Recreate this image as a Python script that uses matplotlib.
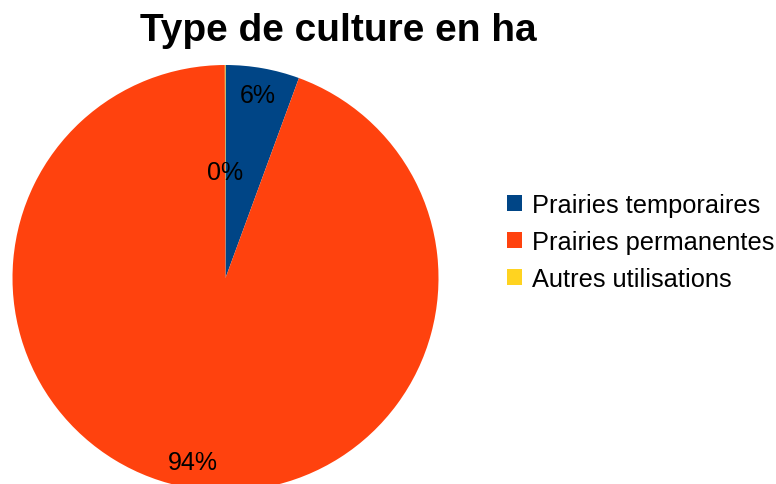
import numpy as np
import matplotlib
matplotlib.use("Agg")
import matplotlib.pyplot as plt
from matplotlib.patches import Patch

# Surface par type de culture (ha, en parts)
categories = ["Prairies temporaires", "Prairies permanentes", "Autres utilisations"]
values = [5.6, 94.35, 0.05]
colors = ["#004586", "#ff420e", "#ffd320"]
title = "Type de culture en ha"

plt.rcParams["font.family"] = ["Liberation Sans", "DejaVu Sans"]

W, H = 776, 485
fig = plt.figure(figsize=(W / 100, H / 100), dpi=100)

cx, cy, r = 225.5, 279.0, 213.0
ax = fig.add_axes([(cx - r) / W, (H - cy - r) / H, 2 * r / W, 2 * r / H])
wedges, texts, autotexts = ax.pie(
    values, colors=colors, startangle=90, counterclock=False,
    radius=1.0, autopct="%1.0f%%", pctdistance=0.875,
    wedgeprops=dict(linewidth=0),
    textprops=dict(fontsize=18, color="black"),
)
# the tiny slice's label sits further in, below the top of the pie
autotexts[2].set_position((0.0, 0.5))
ax.set_xlim(-1, 1)
ax.set_ylim(-1, 1)
ax.set_aspect("equal")
ax.axis("off")

fig.text(338.5 / W, 1 - 31 / H, title, ha="center", va="center",
         fontsize=28, fontweight="bold")

handles = [Patch(facecolor=c, edgecolor="none") for c in colors]
fig.legend(handles, categories, loc="center left",
           bbox_to_anchor=(507 / W, 1 - 243 / H), frameon=False,
           fontsize=18.3, handlelength=0.6, handleheight=0.6,
           handletextpad=0.4, labelspacing=0.5, borderaxespad=0,
           borderpad=0)

fig.savefig("out.png", dpi=100)
